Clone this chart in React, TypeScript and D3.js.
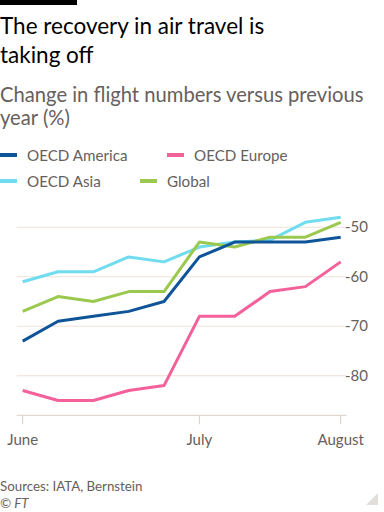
import React from "react";
import * as d3 from "d3";

const weeks = [0, 1, 2, 3, 4, 5, 6, 7, 8, 9];
const oecdAmerica = [-73, -69, -68, -67, -65, -56, -53, -53, -53, -52];
const oecdEurope = [-83, -85, -85, -83, -82, -68, -68, -63, -62, -57];
const oecdAsia = [-61, -59, -59, -56, -57, -54, -53, -52.6, -49, -48];
const globalSeries = [-67, -64, -65, -63, -63, -53, -54, -52, -52, -49];
const xTickIdx = [0, 5, 9];
const xTickLabels = ["June", "July", "August"];
const yTicks = [-50, -60, -70, -80];

const series = [
  { name: "OECD Asia", values: oecdAsia, color: "#6fdcef" },
  { name: "Global", values: globalSeries, color: "#9bc94f" },
  { name: "OECD America", values: oecdAmerica, color: "#0f5499" },
  { name: "OECD Europe", values: oecdEurope, color: "#f4609a" },
];

const legend = [
  { name: "OECD America", color: "#0f5499", col: 0, row: 0 },
  { name: "OECD Europe", color: "#f4609a", col: 1, row: 0 },
  { name: "OECD Asia", color: "#6fdcef", col: 0, row: 1 },
  { name: "Global", color: "#9bc94f", col: 1, row: 1 },
];

const FONT = "Lato, 'Noto Sans', sans-serif";
const GREY = "#66605c";

export default function App() {
  const x = d3.scaleLinear().domain([0, 9]).range([22.7, 340.7]);
  const y = d3.scaleLinear().domain([-88, -47]).range([415.3, 212.4]);
  const line = (vals: number[]) =>
    d3
      .line<number>()
      .x((_, i) => x(weeks[i]))
      .y((d) => y(d))(vals) as string;

  const legendX = [
    [0, 27],
    [167, 194],
  ];
  const legendX2 = [
    [0, 27],
    [140, 167],
  ];

  return (
    <svg
      width={384}
      height={512}
      style={{ position: "absolute", left: 0, top: 0, background: "#fff" }}
      fontFamily={FONT}
    >
      <rect x={0} y={0} width={77} height={5} fill="#000" />
      <text x={0} y={34} fontSize={22.5} fill="#000">
        The recovery in air travel is
      </text>
      <text x={0} y={63} fontSize={22.5} fill="#000">
        taking off
      </text>
      <text x={0} y={102} fontSize={20.2} fill={GREY}>
        Change in flight numbers versus previous
      </text>
      <text x={0} y={125} fontSize={20.2} fill={GREY}>
        year (%)
      </text>

      {legend.map((l) => {
        const pos = l.row === 0 ? legendX[l.col] : legendX2[l.col];
        const cy = l.row === 0 ? 155 : 181;
        return (
          <g key={l.name}>
            <line x1={pos[0]} x2={pos[0] + 17} y1={cy} y2={cy} stroke={l.color} strokeWidth={4} />
            <text x={pos[1]} y={cy + 5.5} fontSize={15.2} fill={GREY}>
              {l.name}
            </text>
          </g>
        );
      })}

      {yTicks.map((t) => (
        <g key={t}>
          <line x1={16.7} x2={346.7} y1={y(t)} y2={y(t)} stroke="#ece3da" strokeWidth={1} />
          <text x={345} y={y(t) + 5} fontSize={15} fill={GREY}>
            {t}
          </text>
        </g>
      ))}
      <line x1={16.7} x2={346.7} y1={y(-88)} y2={y(-88)} stroke="#d9cfc6" strokeWidth={1} />
      {xTickIdx.map((t, i) => (
        <g key={t}>
          <line x1={x(t)} x2={x(t)} y1={y(-88)} y2={y(-88) + 9} stroke="#d9cfc6" strokeWidth={1} />
          <text x={x(t)} y={445} fontSize={15} fill={GREY} textAnchor="middle">
            {xTickLabels[i]}
          </text>
        </g>
      ))}

      {series.map((s) => (
        <path
          key={s.name}
          d={line(s.values)}
          fill="none"
          stroke={s.color}
          strokeWidth={3}
          strokeLinejoin="round"
          strokeLinecap="butt"
        />
      ))}

      <text x={0} y={491} fontSize={13.3} fill={GREY}>
        Sources: IATA, Bernstein
      </text>
      <text x={0} y={508} fontSize={13.3} fill={GREY} fontStyle="italic">
        © FT
      </text>
      <path d="M366,505 L378,505 L378,493 Z" fill="#e2dedb" />
    </svg>
  );
}
